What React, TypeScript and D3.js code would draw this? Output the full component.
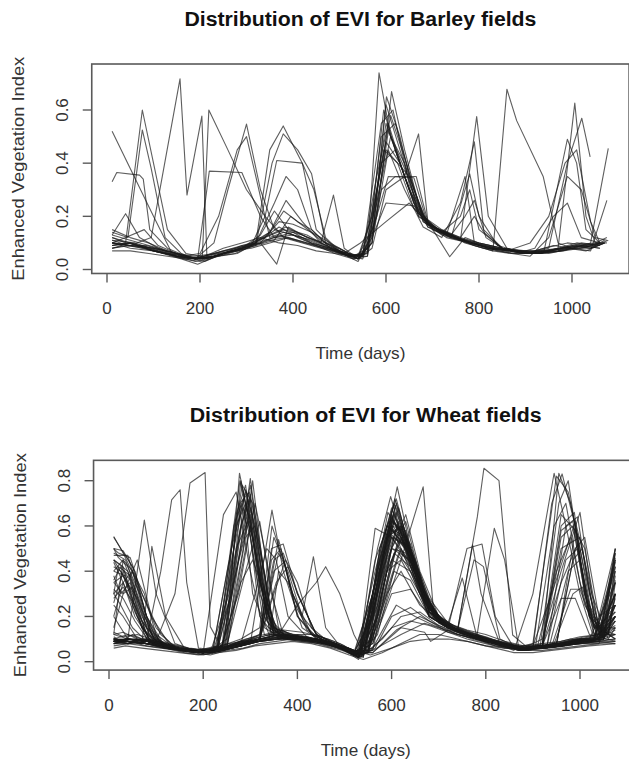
import React from 'react';
import * as d3 from 'd3';

type Pt = [number, number];

// axis ticks
const xTicks = [0, 200, 400, 600, 800, 1000];
const barleyYTicks = [0, 0.2, 0.4, 0.6];
const wheatYTicks = [0, 0.2, 0.4, 0.6, 0.8];

// EVI time series per field, [day, evi]
const barleyFields: Pt[][] = [
  [[11,.52],[50,.38],[100,.2],[140,.06],[180,.04],[210,.05],[250,.07],[300,.09],[340,.12],[380,.15],[420,.13],[460,.1],[500,.07],[540,.05],[570,.2],[595,.6],[620,.45],[660,.25],[690,.16],[740,.12],[790,.1],[840,.08],[880,.07],[930,.06],[980,.08],[1020,.09],[1060,.08]],
  [[11,.33],[21,.365],[70,.355],[78,.34],[92,.15],[130,.08],[170,.05],[200,.04],[240,.06],[280,.07],[320,.1],[360,.12],[400,.14],[440,.1],[480,.08],[520,.05],[550,.06],[580,.35],[605,.55],[640,.35],[680,.18],[720,.14],[770,.11],[820,.08],[870,.06],[920,.06],[970,.07],[1010,.08],[1050,.09],[1078,.11]],
  [[11,.12],[40,.1],[76,.6],[100,.4],[130,.15],[170,.06],[200,.05],[240,.06],[290,.08],[330,.11],[370,.16],[410,.12],[450,.09],[490,.07],[530,.05],[560,.08],[590,.5],[620,.55],[660,.3],[690,.17],[730,.13],[780,.1],[830,.08],[880,.07],[930,.06],[980,.08],[1030,.09],[1060,.1]],
  [[11,.14],[45,.12],[76,.525],[95,.38],[125,.12],[160,.06],[190,.04],[230,.05],[270,.07],[310,.1],[350,.14],[385,.26],[420,.18],[460,.1],[500,.07],[540,.04],[570,.2],[600,.48],[630,.4],[670,.2],[720,.14],[760,.2],[780,.3],[800,.15],[850,.08],[900,.06],[950,.07],[1000,.09],[1040,.08],[1070,.1]],
  [[11,.1],[50,.09],[95,.12],[157,.717],[172,.28],[204,.577],[215,.04],[250,.06],[290,.08],[330,.1],[370,.13],[410,.11],[450,.09],[490,.06],[530,.05],[560,.06],[585,.74],[610,.5],[650,.3],[690,.17],[740,.12],[790,.09],[830,.07],[860,.678],[881,.56],[938,.35],[970,.1],[1000,.08],[1040,.09],[1070,.1]],
  [[11,.09],[50,.1],[100,.07],[150,.05],[190,.04],[205,.05],[219,.6],[260,.45],[300,.3],[340,.2],[380,.12],[420,.1],[460,.08],[500,.06],[540,.04],[570,.1],[600,.62],[630,.45],[670,.22],[710,.15],[760,.12],[800,.1],[850,.08],[900,.06],[940,.07],[990,.49],[1010,.4],[1030,.15],[1060,.1]],
  [[11,.1],[50,.09],[100,.08],[150,.05],[190,.04],[230,.1],[260,.3],[300,.547],[330,.3],[360,.15],[400,.13],[440,.1],[480,.08],[520,.05],[550,.06],[580,.3],[610,.58],[640,.42],[680,.2],[720,.14],[770,.11],[820,.08],[870,.07],[920,.06],[970,.08],[1006,.626],[1030,.2],[1050,.1],[1075,.12]],
  [[11,.11],[60,.1],[110,.07],[160,.05],[200,.06],[240,.2],[280,.45],[300,.5],[320,.35],[350,.12],[380,.14],[420,.12],[460,.09],[500,.06],[540,.05],[570,.15],[600,.45],[650,.35],[690,.16],[730,.13],[770,.35],[790,.1],[840,.08],[890,.07],[940,.07],[990,.08],[1030,.07],[1070,.1]],
  [[11,.08],[50,.09],[100,.07],[150,.05],[195,.04],[220,.37],[290,.365],[330,.2],[360,.12],[400,.13],[440,.11],[480,.08],[520,.05],[550,.04],[580,.2],[605,.35],[660,.345],[690,.17],[730,.12],[780,.1],[830,.08],[880,.07],[930,.06],[980,.07],[1020,.09],[1060,.08]],
  [[11,.1],[50,.09],[100,.08],[150,.06],[190,.05],[230,.06],[280,.08],[320,.1],[350,.45],[379,.54],[420,.4],[450,.15],[490,.08],[520,.05],[550,.05],[580,.2],[612,.669],[640,.45],[680,.18],[720,.13],[760,.11],[795,.575],[820,.2],[860,.08],[900,.06],[950,.07],[1000,.08],[1040,.08],[1070,.1]],
  [[11,.12],[50,.1],[100,.08],[150,.06],[190,.04],[230,.05],[280,.07],[320,.09],[355,.4],[379,.51],[410,.45],[440,.36],[470,.1],[510,.06],[540,.04],[570,.1],[601,.65],[630,.5],[670,.2],[710,.15],[750,.12],[800,.1],[850,.08],[900,.06],[950,.08],[990,.4],[1021,.569],[1039,.424]],
  [[11,.09],[50,.1],[100,.07],[150,.05],[190,.03],[230,.05],[270,.07],[310,.09],[340,.2],[365,.41],[420,.4],[445,.3],[470,.12],[500,.07],[530,.05],[560,.05],[590,.3],[620,.35],[665,.35],[690,.18],[730,.13],[770,.11],[810,.09],[860,.07],[900,.06],[940,.08],[990,.1],[1030,.09],[1060,.1]],
  [[11,.1],[50,.08],[100,.07],[150,.05],[190,.04],[230,.06],[270,.08],[310,.1],[350,.13],[385,.16],[420,.13],[460,.1],[487,.28],[510,.08],[540,.04],[570,.08],[600,.3],[640,.35],[670,.51],[690,.18],[737,.048],[770,.12],[800,.1],[850,.08],[900,.07],[950,.06],[1000,.08],[1040,.07],[1075,.26]],
  [[11,.13],[40,.21],[70,.12],[110,.08],[150,.05],[190,.04],[230,.05],[270,.07],[310,.08],[350,.1],[390,.12],[430,.1],[470,.08],[510,.06],[545,.1],[600,.18],[650,.25],[690,.17],[730,.14],[780,.1],[830,.08],[870,.07],[920,.07],[960,.09],[1000,.08],[1040,.1],[1078,.456]],
  [[11,.15],[50,.12],[90,.1],[130,.07],[170,.05],[210,.03],[250,.06],[290,.08],[330,.1],[365,.02],[390,.16],[430,.12],[470,.1],[510,.07],[540,.04],[570,.12],[600,.25],[660,.24],[700,.15],[740,.12],[780,.36],[800,.2],[840,.09],[880,.07],[930,.06],[970,.07],[1010,.09],[1040,.08],[1070,.11]],
  [[11,.08],[40,.09],[80,.08],[120,.06],[160,.04],[195,.02],[235,.05],[275,.06],[315,.09],[350,.11],[385,.12],[425,.1],[465,.08],[505,.06],[540,.03],[575,.15],[605,.45],[640,.3],[680,.16],[720,.12],[760,.25],[790,.48],[810,.15],[850,.08],[890,.06],[930,.06],[980,.07],[1020,.08],[1060,.1]],
  [[11,.11],[45,.09],[85,.09],[125,.07],[165,.05],[200,.04],[240,.05],[280,.06],[320,.1],[360,.25],[385,.35],[410,.3],[440,.15],[480,.08],[520,.06],[550,.05],[590,.55],[615,.6],[650,.32],[690,.17],[730,.14],[770,.1],[810,.08],[860,.07],[910,.1],[950,.2],[985,.4],[1010,.45],[1040,.18],[1060,.1]],
  [[11,.07],[50,.07],[90,.06],[130,.05],[170,.04],[210,.05],[250,.08],[290,.1],[330,.12],[370,.1],[410,.09],[450,.07],[490,.06],[530,.04],[560,.05],[600,.55],[630,.4],[670,.21],[710,.15],[750,.12],[790,.09],[830,.07],[870,.06],[910,.05],[950,.12],[990,.35],[1020,.3],[1050,.12],[1075,.11]],
  [[11,.1],[40,.12],[80,.15],[110,.09],[150,.06],[190,.04],[230,.05],[270,.07],[310,.09],[350,.14],[380,.22],[410,.18],[440,.15],[470,.1],[500,.07],[530,.04],[560,.07],[595,.45],[625,.4],[660,.23],[700,.16],[740,.13],[770,.2],[790,.26],[815,.12],[850,.08],[890,.06],[930,.07],[970,.08],[1010,.09],[1050,.1],[1075,.1]],
  [[11,.09],[45,.1],[85,.08],[125,.06],[165,.04],[200,.03],[240,.05],[280,.07],[320,.09],[360,.11],[395,.2],[425,.16],[460,.11],[500,.08],[530,.05],[560,.06],[590,.4],[620,.45],[660,.25],[700,.16],[740,.13],[780,.1],[820,.08],[860,.07],[900,.06],[940,.07],[980,.08],[1020,.1],[1060,.09]],
  [[11,.13],[50,.11],[90,.09],[130,.07],[170,.05],[210,.04],[250,.06],[290,.08],[330,.13],[360,.22],[390,.15],[430,.13],[470,.09],[505,.06],[540,.05],[570,.1],[605,.52],[640,.38],[680,.19],[720,.14],[760,.11],[800,.09],[840,.07],[880,.06],[920,.08],[960,.2],[990,.25],[1020,.12],[1060,.1]],
  [[11,.08],[50,.1],[90,.08],[130,.06],[170,.05],[210,.04],[250,.06],[290,.09],[330,.1],[370,.18],[400,.17],[440,.14],[480,.1],[520,.06],[550,.05],[580,.25],[610,.5],[640,.4],[680,.2],[720,.15],[760,.12],[790,.2],[810,.14],[850,.08],[890,.07],[930,.06],[970,.08],[1010,.1],[1050,.09]],
];

const wheatFields: Pt[][] = [
  [[10,.553],[30,.48],[60,.35],[100,.15],[140,.06],[180,.05],[220,.04],[260,.06],[300,.08],[340,.1],[380,.11],[420,.1],[460,.08],[500,.05],[530,.02],[560,.2],[600,.65],[630,.5],[670,.3],[700,.18],[740,.14],[780,.1],[820,.08],[860,.05],[900,.3],[945,.833],[970,.6],[1000,.3],[1030,.1],[1060,.12],[1075,.3]],
  [[10,.5],[20,.48],[45,.46],[70,.3],[110,.12],[150,.05],[190,.04],[230,.05],[260,.3],[280,.7],[300,.55],[330,.15],[370,.1],[410,.09],[450,.08],[490,.06],[530,.02],[570,.35],[612,.773],[640,.5],[680,.22],[720,.15],[760,.12],[800,.09],[840,.07],[880,.05],[920,.06],[960,.07],[1000,.08],[1040,.09],[1075,.45]],
  [[10,.45],[30,.42],[60,.2],[90,.08],[130,.06],[170,.05],[210,.04],[250,.1],[277,.833],[300,.6],[330,.2],[360,.1],[400,.1],[440,.09],[480,.07],[520,.04],[550,.05],[590,.6],[620,.55],[660,.3],[700,.17],[740,.13],[780,.1],[820,.07],[860,.06],[900,.06],[950,.07],[990,.09],[1030,.1],[1075,.2]],
  [[10,.09],[40,.1],[75,.626],[100,.3],[140,.08],[180,.05],[220,.05],[260,.07],[300,.08],[346,.67],[370,.4],[410,.15],[450,.09],[490,.06],[530,.03],[570,.4],[600,.6],[640,.4],[680,.2],[720,.15],[760,.12],[800,.09],[840,.07],[880,.06],[920,.06],[960,.08],[1000,.1],[1040,.11],[1075,.5]],
  [[10,.08],[40,.09],[70,.08],[91,.51],[120,.2],[160,.06],[200,.05],[240,.06],[280,.08],[320,.09],[360,.54],[390,.3],[430,.12],[470,.08],[510,.05],[540,.03],[580,.45],[610,.7],[640,.45],[680,.2],[720,.15],[760,.12],[800,.1],[840,.07],[880,.06],[920,.07],[960,.6],[988,.66],[1010,.3],[1040,.1],[1075,.15]],
  [[10,.1],[40,.09],[80,.1],[110,.4],[133,.715],[151,.76],[165,.35],[190,.06],[230,.05],[270,.07],[310,.09],[350,.1],[390,.11],[430,.1],[470,.08],[510,.05],[540,.04],[580,.4],[605,.65],[640,.45],[680,.21],[720,.15],[760,.12],[800,.09],[840,.07],[880,.06],[920,.06],[960,.08],[1000,.09],[1040,.1],[1075,.35]],
  [[10,.09],[50,.1],[100,.09],[140,.3],[172,.79],[204,.836],[215,.155],[240,.06],[280,.08],[320,.09],[360,.1],[400,.11],[440,.09],[480,.07],[520,.04],[550,.05],[590,.55],[620,.6],[660,.35],[700,.18],[740,.14],[782,.64],[796,.855],[828,.8],[857,.118],[890,.06],[930,.07],[970,.08],[1010,.09],[1050,.1],[1075,.25]],
  [[10,.47],[40,.47],[70,.25],[100,.1],[140,.06],[180,.04],[220,.05],[260,.5],[290,.75],[310,.5],[340,.15],[380,.1],[420,.1],[460,.08],[500,.05],[530,.01],[570,.3],[600,.62],[630,.55],[670,.28],[710,.16],[750,.13],[790,.1],[830,.08],[870,.05],[910,.06],[950,.08],[990,.1],[1030,.1],[1075,.4]],
  [[10,.4],[35,.38],[70,.15],[110,.07],[150,.05],[190,.04],[230,.06],[270,.65],[290,.78],[315,.4],[350,.12],[390,.1],[430,.09],[470,.08],[510,.05],[540,.03],[575,.5],[610,.72],[640,.48],[680,.22],[720,.16],[760,.12],[800,.1],[840,.08],[880,.05],[920,.07],[955,.833],[980,.7],[1010,.4],[1040,.12],[1075,.2]],
  [[10,.3],[30,.35],[55,.2],[90,.09],[130,.06],[170,.05],[210,.04],[250,.08],[300,.81],[320,.5],[350,.15],[390,.12],[430,.1],[470,.08],[510,.06],[540,.03],[570,.25],[600,.58],[640,.5],[680,.25],[720,.15],[760,.12],[800,.1],[840,.08],[880,.06],[920,.07],[960,.5],[1000,.55],[1030,.2],[1060,.12],[1075,.3]],
  [[10,.09],[40,.08],[80,.09],[120,.07],[160,.05],[200,.04],[243,.65],[270,.75],[300,.4],[330,.12],[370,.1],[410,.09],[450,.08],[490,.06],[530,.02],[560,.3],[590,.6],[630,.55],[670,.3],[710,.17],[750,.13],[790,.1],[830,.08],[870,.06],[910,.06],[950,.07],[990,.08],[1030,.09],[1075,.18]],
  [[10,.1],[40,.09],[80,.08],[120,.07],[160,.05],[200,.05],[240,.07],[280,.1],[320,.15],[346,.6],[370,.45],[400,.2],[440,.1],[480,.07],[520,.04],[550,.04],[590,.3],[620,.5],[660,.35],[700,.2],[740,.14],[772,.516],[790,.3],[830,.08],[870,.06],[910,.06],[950,.07],[990,.58],[1010,.5],[1040,.15],[1075,.1]],
  [[10,.2],[40,.1],[80,.09],[120,.07],[160,.05],[200,.05],[240,.06],[280,.08],[320,.1],[360,.48],[380,.4],[410,.2],[434,.464],[460,.15],[490,.07],[530,.03],[560,.05],[600,.45],[640,.4],[680,.2],[720,.15],[760,.12],[800,.1],[840,.08],[880,.06],[920,.06],[960,.07],[1000,.09],[1040,.1],[1075,.14]],
  [[10,.09],[40,.1],[80,.09],[120,.07],[160,.05],[200,.04],[240,.06],[280,.08],[320,.1],[360,.12],[400,.25],[440,.35],[460,.42],[490,.3],[520,.12],[540,.04],[580,.2],[620,.45],[660,.3],[700,.18],[740,.14],[780,.1],[818,.59],[840,.45],[870,.06],[910,.06],[950,.07],[990,.08],[1030,.1],[1075,.12]],
  [[10,.1],[40,.09],[80,.08],[120,.06],[160,.05],[200,.04],[240,.06],[280,.08],[320,.1],[360,.12],[400,.1],[440,.09],[480,.07],[520,.04],[550,.04],[590,.4],[620,.45],[667,.773],[690,.2],[730,.15],[770,.12],[810,.09],[850,.07],[890,.06],[930,.07],[970,.08],[1010,.1],[1050,.11],[1075,.18]],
  [[10,.08],[40,.09],[80,.08],[120,.07],[160,.05],[200,.04],[240,.05],[280,.07],[320,.09],[360,.1],[400,.11],[440,.1],[480,.08],[520,.05],[560,.05],[620,.12],[670,.17],[700,.15],[740,.12],[780,.1],[820,.08],[860,.06],[900,.06],[940,.07],[980,.08],[1020,.09],[1075,.1]],
  [[10,.09],[40,.1],[80,.08],[120,.06],[160,.05],[200,.04],[240,.06],[280,.09],[320,.1],[360,.1],[400,.11],[440,.1],[480,.07],[520,.04],[560,.04],[620,.15],[670,.13],[683,.09],[720,.14],[760,.12],[800,.09],[840,.07],[880,.06],[920,.07],[960,.28],[990,.28],[1020,.12],[1075,.09]],
  [[10,.42],[25,.4],[50,.3],[80,.12],[120,.07],[160,.05],[200,.04],[240,.06],[280,.08],[320,.1],[345,.5],[370,.52],[400,.3],[440,.12],[480,.08],[520,.04],[560,.2],[600,.55],[640,.5],[680,.28],[720,.17],[750,.37],[780,.12],[820,.08],[860,.06],[900,.06],[940,.07],[980,.32],[1000,.32],[1030,.15],[1075,.15]],
  [[10,.35],[30,.3],[60,.45],[90,.2],[130,.07],[170,.05],[210,.04],[250,.06],[290,.5],[310,.7],[330,.5],[360,.15],[400,.1],[440,.1],[480,.08],[520,.04],[560,.1],[600,.5],[630,.62],[670,.3],[710,.16],[750,.13],[790,.1],[830,.08],[870,.06],[910,.07],[950,.08],[990,.5],[1010,.55],[1040,.2],[1075,.25]],
  [[10,.1],[40,.08],[80,.09],[120,.07],[160,.05],[200,.04],[240,.06],[265,.6],[285,.72],[305,.3],[340,.12],[380,.11],[420,.1],[460,.08],[500,.06],[530,.02],[565,.59],[600,.55],[640,.42],[680,.2],[720,.15],[760,.5],[792,.52],[820,.2],[860,.06],[900,.06],[940,.7],[962,.83],[990,.6],[1020,.2],[1060,.12],[1075,.35]],
  [[10,.3],[20,.42],[45,.38],[75,.2],[110,.08],[150,.05],[190,.04],[230,.05],[270,.4],[300,.65],[320,.35],[350,.12],[390,.1],[430,.09],[470,.08],[510,.05],[540,.03],[580,.45],[615,.68],[650,.4],[690,.2],[730,.15],[770,.12],[810,.09],[850,.07],[890,.06],[930,.07],[970,.45],[995,.5],[1020,.25],[1050,.12],[1075,.5]],
  [[10,.09],[40,.09],[80,.08],[120,.07],[160,.05],[200,.04],[240,.05],[280,.07],[320,.09],[360,.1],[400,.11],[440,.1],[480,.08],[520,.05],[545,.04],[580,.1],[620,.2],[660,.22],[700,.16],[740,.13],[780,.1],[820,.08],[860,.06],[900,.06],[940,.08],[980,.1],[1020,.09],[1075,.08]],
  [[10,.08],[40,.1],[80,.1],[120,.08],[160,.06],[200,.05],[230,.06],[260,.4],[280,.8],[300,.6],[330,.25],[360,.1],[400,.1],[440,.09],[480,.07],[520,.04],[560,.3],[600,.6],[630,.58],[670,.3],[710,.17],[750,.13],[790,.1],[830,.07],[870,.05],[910,.06],[950,.07],[990,.09],[1030,.1],[1075,.42]],
  [[10,.25],[30,.2],[60,.1],[100,.08],[140,.06],[180,.05],[220,.05],[260,.07],[300,.09],[340,.1],[360,.4],[380,.35],[410,.2],[450,.1],[490,.07],[530,.03],[570,.2],[605,.48],[640,.42],[680,.22],[720,.15],[760,.12],[800,.09],[840,.07],[880,.06],[920,.06],[960,.07],[1000,.1],[1040,.1],[1075,.2]],
  [[10,.5],[30,.49],[55,.4],[85,.15],[120,.07],[160,.05],[200,.04],[240,.06],[280,.08],[320,.1],[360,.12],[400,.11],[440,.1],[480,.08],[520,.04],[560,.08],[590,.3],[620,.4],[660,.25],[700,.18],[740,.14],[780,.1],[820,.08],[860,.06],[900,.08],[950,.82],[975,.75],[1000,.5],[1030,.15],[1075,.22]],
  [[10,.45],[40,.4],[70,.2],[100,.09],[140,.06],[180,.05],[220,.04],[260,.3],[285,.68],[305,.55],[340,.15],[380,.1],[420,.1],[460,.08],[500,.05],[530,.02],[570,.25],[605,.55],[640,.5],[680,.25],[720,.16],[760,.12],[800,.1],[840,.08],[880,.06],[920,.06],[960,.07],[1000,.08],[1040,.09],[1075,.48]],
  [[10,.09],[40,.08],[80,.1],[120,.08],[160,.06],[200,.05],[240,.06],[280,.09],[320,.12],[350,.45],[370,.48],[400,.3],[440,.12],[480,.08],[520,.05],[550,.04],[590,.45],[630,.65],[660,.4],[700,.2],[740,.15],[780,.12],[820,.09],[860,.06],[900,.07],[940,.3],[990,.62],[1010,.45],[1040,.15],[1075,.1]],
  [[10,.1],[40,.09],[80,.07],[120,.06],[160,.04],[200,.03],[240,.05],[280,.07],[320,.09],[360,.1],[400,.12],[440,.1],[480,.08],[520,.05],[555,.03],[600,.06],[640,.09],[680,.1],[720,.1],[760,.09],[800,.07],[840,.06],[880,.06],[920,.06],[960,.07],[1000,.08],[1040,.08],[1075,.09]],
  [[10,.12],[30,.45],[50,.4],[80,.2],[110,.08],[150,.05],[190,.04],[230,.05],[270,.5],[295,.62],[320,.3],[350,.15],[390,.12],[430,.1],[470,.08],[510,.05],[540,.03],[575,.35],[605,.62],[640,.52],[680,.25],[720,.16],[760,.12],[800,.1],[840,.08],[880,.06],[920,.1],[960,.4],[1000,.66],[1025,.3],[1060,.1],[1075,.15]],
  [[10,.09],[40,.1],[80,.09],[120,.07],[160,.05],[200,.04],[240,.07],[280,.35],[305,.45],[330,.3],[360,.12],[400,.1],[440,.09],[480,.07],[520,.04],[560,.1],[600,.5],[630,.48],[670,.26],[710,.16],[750,.14],[790,.11],[830,.09],[870,.07],[910,.07],[950,.08],[990,.09],[1030,.1],[1075,.45]],
  [[10,.35],[30,.38],[60,.28],[95,.1],[130,.06],[170,.05],[210,.04],[250,.06],[290,.55],[310,.6],[340,.2],[370,.12],[410,.11],[450,.09],[490,.07],[530,.03],[570,.5],[598,.73],[630,.5],[670,.27],[710,.17],[750,.13],[790,.1],[830,.08],[870,.05],[910,.07],[950,.4],[980,.55],[1010,.25],[1050,.11],[1075,.28]],
  [[10,.08],[40,.1],[80,.09],[120,.07],[160,.05],[200,.05],[240,.06],[280,.08],[320,.1],[360,.11],[400,.1],[440,.09],[480,.07],[520,.04],[560,.06],[610,.25],[650,.2],[690,.16],[730,.13],[770,.1],[810,.08],[850,.06],[890,.06],[930,.07],[970,.08],[1010,.09],[1050,.1],[1075,.12]],
  [[10,.38],[25,.3],[45,.35],[70,.15],[100,.08],[140,.06],[180,.05],[220,.04],[255,.45],[278,.8],[295,.65],[320,.2],[350,.12],[390,.1],[430,.09],[470,.08],[510,.05],[535,.02],[575,.45],[605,.66],[640,.45],[680,.22],[720,.15],[760,.11],[800,.09],[840,.07],[880,.05],[920,.07],[960,.35],[995,.52],[1020,.2],[1050,.1],[1075,.38]],
  [[10,.2],[30,.35],[50,.25],[80,.1],[120,.07],[160,.05],[200,.04],[240,.05],[275,.55],[295,.72],[320,.45],[345,.12],[380,.1],[420,.1],[460,.08],[500,.06],[530,.02],[570,.3],[600,.56],[640,.48],[680,.24],[720,.16],[760,.12],[800,.1],[840,.08],[880,.06],[920,.06],[960,.07],[1000,.09],[1040,.1],[1075,.3]],
  [[10,.48],[35,.45],[60,.3],[90,.12],[130,.06],[170,.05],[210,.05],[250,.07],[290,.4],[320,.62],[345,.3],[370,.12],[410,.11],[450,.09],[490,.07],[525,.03],[560,.25],[595,.6],[630,.5],[670,.28],[710,.17],[750,.13],[790,.1],[830,.08],[870,.06],[910,.06],[950,.08],[985,.45],[1005,.5],[1035,.15],[1075,.2]],
  [[10,.1],[40,.12],[70,.1],[110,.08],[150,.06],[190,.05],[230,.07],[260,.5],[283,.78],[305,.7],[330,.3],[360,.12],[400,.11],[440,.1],[480,.08],[520,.04],[560,.2],[590,.55],[625,.6],[660,.35],[700,.19],[740,.14],[780,.11],[820,.09],[860,.07],[900,.06],[940,.07],[980,.09],[1020,.1],[1075,.35]],
  [[10,.3],[25,.25],[50,.15],[80,.09],[120,.07],[160,.05],[200,.04],[240,.06],[280,.08],[320,.12],[350,.55],[370,.45],[395,.25],[430,.12],[470,.08],[510,.05],[540,.03],[580,.4],[615,.62],[650,.42],[690,.2],[730,.15],[770,.12],[810,.09],[850,.07],[890,.06],[930,.07],[970,.6],[995,.64],[1020,.3],[1050,.1],[1075,.2]],
  [[10,.09],[40,.1],[80,.09],[120,.07],[160,.05],[200,.04],[240,.06],[270,.4],[300,.74],[325,.45],[350,.15],[390,.11],[430,.1],[470,.08],[510,.05],[540,.03],[575,.4],[608,.69],[640,.5],[680,.23],[720,.16],[760,.12],[800,.09],[840,.07],[880,.06],[920,.07],[960,.08],[1000,.1],[1040,.1],[1075,.25]],
  [[10,.44],[30,.35],[50,.4],[75,.3],[100,.12],[140,.06],[180,.05],[220,.04],[260,.06],[300,.08],[340,.1],[380,.12],[420,.11],[460,.09],[500,.06],[530,.02],[570,.35],[600,.58],[635,.5],[675,.27],[715,.16],[755,.12],[795,.1],[835,.08],[875,.05],[915,.06],[955,.7],[975,.8],[1000,.45],[1030,.12],[1075,.15]],
  [[10,.1],[40,.09],[80,.08],[120,.06],[160,.05],[200,.04],[240,.05],[280,.07],[320,.1],[350,.3],[375,.45],[400,.35],[430,.15],[470,.08],[510,.05],[540,.03],[580,.25],[610,.5],[650,.42],[690,.22],[730,.16],[770,.12],[810,.1],[850,.07],[890,.06],[930,.06],[970,.07],[1010,.09],[1050,.1],[1075,.42]],
  [[10,.32],[30,.28],[55,.18],[85,.09],[125,.06],[165,.05],[205,.04],[245,.08],[270,.6],[290,.7],[310,.55],[335,.18],[365,.11],[405,.1],[445,.09],[485,.07],[520,.03],[560,.3],[592,.66],[625,.55],[665,.3],[705,.18],[745,.13],[785,.1],[825,.08],[865,.06],[905,.06],[945,.6],[970,.7],[1000,.35],[1030,.12],[1075,.25]],
  [[10,.09],[40,.09],[80,.08],[120,.07],[160,.05],[200,.05],[240,.06],[280,.08],[320,.1],[360,.11],[400,.1],[440,.09],[480,.07],[520,.03],[555,.05],[600,.15],[640,.18],[680,.16],[720,.13],[760,.11],[800,.09],[840,.07],[880,.06],[920,.06],[960,.07],[1000,.08],[1040,.09],[1075,.1]],
  [[10,.5],[20,.46],[40,.42],[65,.3],[95,.1],[135,.06],[175,.05],[215,.04],[255,.3],[280,.6],[300,.72],[320,.4],[350,.13],[390,.11],[430,.1],[470,.08],[510,.05],[540,.02],[575,.5],[605,.7],[640,.48],[680,.22],[720,.15],[760,.12],[800,.09],[840,.07],[880,.05],[920,.06],[960,.07],[1000,.09],[1040,.1],[1075,.48]],
  [[10,.08],[40,.08],[80,.1],[120,.08],[160,.05],[200,.04],[240,.05],[280,.07],[320,.1],[355,.35],[380,.42],[405,.28],[440,.12],[480,.08],[520,.04],[550,.04],[590,.4],[620,.55],[660,.33],[700,.19],[740,.14],[775,.45],[795,.42],[830,.1],[870,.06],[910,.06],[950,.07],[990,.08],[1030,.1],[1075,.3]],
  [[10,.4],[30,.45],[55,.32],[85,.12],[125,.07],[165,.05],[205,.04],[245,.05],[285,.5],[305,.8],[325,.45],[350,.14],[390,.11],[430,.1],[470,.08],[510,.05],[535,.02],[570,.42],[600,.64],[640,.46],[680,.23],[720,.16],[760,.12],[800,.1],[840,.08],[880,.06],[920,.07],[960,.55],[985,.6],[1015,.25],[1050,.11],[1075,.4]],
  [[10,.1],[40,.1],[80,.09],[120,.07],[160,.05],[200,.04],[240,.06],[280,.08],[310,.3],[335,.5],[355,.45],[380,.2],[420,.11],[460,.08],[500,.06],[530,.03],[565,.45],[595,.62],[630,.52],[670,.26],[710,.17],[750,.13],[790,.1],[830,.08],[870,.06],[910,.06],[950,.07],[990,.09],[1030,.1],[1075,.22]],
  [[10,.26],[30,.4],[55,.22],[85,.1],[125,.06],[165,.05],[205,.04],[245,.06],[285,.09],[325,.1],[365,.12],[405,.11],[445,.09],[485,.07],[520,.03],[555,.1],[590,.4],[625,.56],[665,.3],[705,.18],[745,.14],[785,.11],[825,.08],[865,.06],[905,.06],[945,.08],[985,.3],[1005,.33],[1035,.12],[1075,.12]],
  [[10,.09],[40,.09],[80,.08],[120,.07],[160,.05],[200,.04],[230,.07],[255,.35],[278,.7],[298,.75],[320,.35],[350,.12],[390,.1],[430,.1],[470,.08],[510,.05],[540,.03],[580,.35],[612,.6],[650,.45],[690,.21],[730,.15],[770,.12],[810,.09],[850,.07],[890,.05],[930,.07],[970,.08],[1010,.1],[1050,.1],[1075,.36]],
  [[10,.45],[30,.38],[60,.22],[95,.09],[135,.06],[175,.05],[215,.04],[255,.06],[295,.08],[335,.1],[375,.11],[415,.1],[455,.09],[495,.06],[530,.02],[570,.38],[600,.55],[640,.44],[680,.22],[720,.15],[760,.12],[800,.1],[840,.07],[880,.06],[920,.08],[960,.65],[990,.58],[1020,.2],[1050,.1],[1075,.18]],
  [[10,.15],[30,.3],[50,.33],[80,.15],[120,.07],[160,.05],[200,.04],[240,.06],[275,.45],[300,.68],[320,.5],[345,.16],[380,.11],[420,.1],[460,.09],[500,.06],[530,.03],[565,.3],[598,.63],[630,.56],[670,.28],[710,.17],[750,.13],[790,.1],[830,.08],[870,.06],[910,.06],[950,.07],[990,.09],[1030,.11],[1075,.5]],
  [[10,.09],[40,.1],[80,.09],[120,.07],[160,.05],[200,.05],[240,.06],[280,.09],[320,.11],[350,.4],[372,.44],[400,.2],[440,.11],[480,.08],[520,.04],[550,.04],[585,.28],[615,.48],[655,.35],[695,.19],[735,.14],[775,.11],[815,.09],[855,.07],[895,.06],[935,.07],[975,.4],[1000,.45],[1030,.15],[1075,.12]],
  [[10,.36],[25,.42],[45,.36],[70,.18],[105,.08],[145,.06],[185,.05],[225,.04],[265,.5],[290,.76],[310,.6],[335,.2],[365,.12],[405,.1],[445,.09],[485,.07],[525,.03],[565,.4],[600,.68],[635,.5],[675,.25],[715,.16],[755,.12],[795,.1],[835,.08],[875,.06],[915,.07],[955,.08],[995,.1],[1035,.1],[1075,.3]],
  [[10,.1],[40,.09],[80,.08],[120,.06],[160,.05],[200,.04],[240,.05],[280,.08],[320,.1],[360,.12],[400,.11],[440,.1],[480,.08],[520,.04],[560,.04],[610,.14],[660,.2],[700,.16],[740,.12],[780,.1],[820,.08],[860,.06],[900,.06],[940,.07],[980,.08],[1020,.09],[1075,.09]],
  [[10,.55],[25,.5],[50,.42],[80,.2],[115,.08],[155,.05],[195,.04],[235,.05],[275,.3],[300,.6],[325,.35],[355,.13],[395,.11],[435,.1],[475,.08],[515,.05],[540,.02],[580,.48],[610,.66],[645,.46],[685,.22],[725,.16],[765,.12],[805,.1],[845,.07],[885,.05],[925,.06],[965,.07],[1005,.09],[1045,.1],[1075,.46]],
  [[10,.12],[40,.1],[80,.09],[120,.07],[160,.05],[200,.04],[240,.06],[280,.08],[320,.1],[345,.45],[365,.5],[390,.3],[420,.14],[460,.09],[500,.06],[530,.03],[570,.2],[600,.5],[640,.45],[680,.23],[720,.16],[760,.12],[800,.09],[840,.07],[880,.06],[920,.06],[960,.58],[985,.62],[1010,.3],[1045,.11],[1075,.2]],
  [[10,.28],[30,.33],[55,.25],[85,.1],[125,.06],[165,.05],[205,.04],[245,.06],[280,.58],[300,.78],[322,.5],[348,.15],[380,.11],[420,.1],[460,.09],[500,.06],[530,.02],[575,.44],[607,.72],[640,.5],[680,.24],[720,.16],[760,.12],[800,.1],[840,.08],[880,.06],[920,.07],[960,.08],[1000,.09],[1040,.1],[1075,.44]],
  [[10,.13],[30,.11],[60,.12],[90,.1],[130,.08],[170,.06],[210,.05],[250,.07],[290,.1],[330,.12],[370,.14],[410,.13],[450,.11],[490,.08],[525,.04],[560,.08],[600,.3],[640,.32],[680,.2],[720,.17],[760,.14],[800,.12],[840,.09],[880,.07],[920,.08],[960,.09],[1000,.11],[1040,.12],[1075,.16]],
  [[10,.06],[35,.07],[70,.06],[110,.05],[150,.04],[190,.03],[230,.04],[270,.05],[310,.07],[350,.08],[390,.09],[430,.08],[470,.06],[510,.03],[540,.01],[580,.04],[620,.08],[660,.12],[700,.12],[740,.1],[780,.08],[820,.06],[860,.04],[900,.04],[940,.05],[980,.06],[1020,.07],[1075,.08]],
  [[10,.11],[25,.09],[50,.12],[80,.09],[115,.07],[150,.06],[185,.05],[220,.06],[255,.08],[290,.09],[325,.11],[360,.13],[395,.12],[430,.12],[465,.1],[500,.07],[535,.03],[570,.12],[605,.4],[640,.36],[680,.2],[720,.15],[760,.13],[800,.11],[840,.08],[880,.06],[920,.07],[960,.08],[1000,.1],[1040,.12],[1075,.3]],
  [[10,.07],[40,.08],[75,.07],[110,.06],[145,.05],[180,.04],[215,.03],[250,.05],[285,.06],[320,.08],[355,.09],[390,.1],[425,.09],[460,.07],[495,.05],[530,.02],[565,.06],[600,.2],[640,.24],[680,.18],[720,.13],[760,.1],[800,.08],[840,.06],[880,.05],[920,.05],[960,.06],[1000,.07],[1040,.08],[1075,.25]],
  [[10,.12],[30,.13],[60,.1],[95,.09],[130,.07],[165,.05],[200,.05],[235,.06],[270,.08],[305,.1],[340,.12],[375,.12],[410,.11],[445,.1],[480,.08],[515,.05],[545,.04],[585,.3],[615,.55],[650,.4],[690,.21],[730,.16],[770,.13],[810,.1],[850,.08],[890,.06],[930,.07],[970,.09],[1010,.11],[1050,.12],[1075,.2]],
];

const FONT = '"Liberation Sans", Arial, Helvetica, sans-serif';

interface PanelProps {
  title: string;
  fields: Pt[][];
  yTicks: number[];
  xPx: [number, number]; // pixel of day 0 and day 1000
  yPx: [number, number]; // pixel of 0 and of the top tick
  yLim: [number, number];
}

const Panel = ({ title, fields, yTicks, xPx, yPx, yLim }: PanelProps) => {
  const x = d3.scaleLinear().domain([0, 1000]).range(xPx);
  const y = d3.scaleLinear().domain([0, yTicks[yTicks.length - 1]]).range(yPx);
  const left = x(-32.8), right = x(1122.8);
  const top = y(yLim[1]), bottom = y(yLim[0]);
  const midX = (left + right) / 2, midY = (top + bottom) / 2;
  const line = d3.line<Pt>().x(d => x(d[0])).y(d => y(d[1]));
  const axisCol = '#5a5a5a';

  return (
    <g fontFamily={FONT}>
      <text x={midX} y={top - 38} textAnchor="middle" fontWeight="bold" fontSize={20}
        fill="#111" textLength={352} lengthAdjust="spacingAndGlyphs">{title}</text>

      {fields.map((f, i) => (
        <path key={i} d={line(f) || ''} fill="none" stroke="#1a1a1a" strokeWidth={1.1}
          strokeOpacity={0.7} strokeLinejoin="round" />
      ))}

      <rect x={left} y={top} width={right - left} height={bottom - top}
        fill="none" stroke={axisCol} strokeWidth={1.6} />

      {/* x axis */}
      {xTicks.map(t => (
        <g key={t}>
          <line x1={x(t)} x2={x(t)} y1={bottom} y2={bottom + 9} stroke={axisCol} strokeWidth={1.4} />
          <text x={x(t)} y={bottom + 41} textAnchor="middle" fontSize={17} fill="#333">{t}</text>
        </g>
      ))}
      <text x={midX} y={bottom + 86} textAnchor="middle" fontSize={17} fill="#333"
        textLength={90} lengthAdjust="spacingAndGlyphs">Time (days)</text>

      {/* y axis */}
      {yTicks.map(t => (
        <g key={t}>
          <line x1={left - 9} x2={left} y1={y(t)} y2={y(t)} stroke={axisCol} strokeWidth={1.4} />
          <text transform={`translate(${left - 24},${y(t)}) rotate(-90)`} textAnchor="middle"
            fontSize={17} fill="#333">{t.toFixed(1)}</text>
        </g>
      ))}
      <text transform={`translate(${left - 68},${midY}) rotate(-90)`} textAnchor="middle"
        fontSize={17} fill="#333" textLength={224} lengthAdjust="spacingAndGlyphs">
        Enhanced Vegetation Index
      </text>
    </g>
  );
};

export default function App() {
  return (
    <svg width={629} height={764} style={{ position: 'absolute', left: 0, top: 0, background: '#fff' }}>
      <rect width={629} height={764} fill="#fff" />
      <Panel title="Distribution of EVI for Barley fields" fields={barleyFields}
        yTicks={barleyYTicks} xPx={[107, 572]} yPx={[269.5, 110]} yLim={[-0.015, 0.773]} />
      <Panel title="Distribution of EVI for Wheat fields" fields={wheatFields}
        yTicks={wheatYTicks} xPx={[109, 580]} yPx={[661.7, 480.7]} yLim={[-0.037, 0.89]} />
    </svg>
  );
}
